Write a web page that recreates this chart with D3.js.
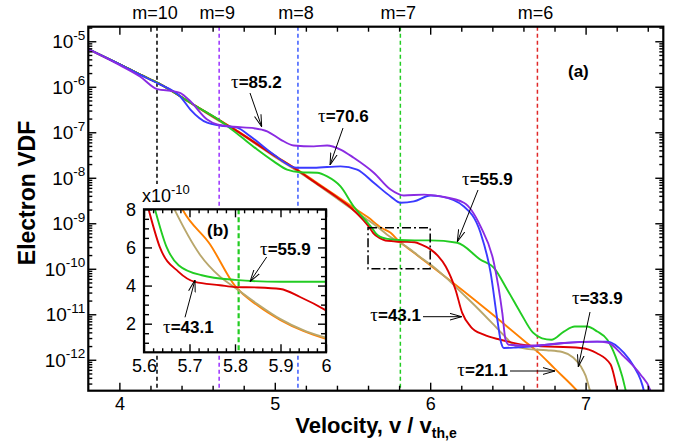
<!DOCTYPE html>
<html><head><meta charset="utf-8">
<script src="https://cdn.jsdelivr.net/npm/d3@7"></script>
<style>
html,body{margin:0;padding:0;background:#fff;}
svg{display:block;font-family:"Liberation Sans",Arial,Helvetica,sans-serif;}
</style></head><body>
<svg id="chart" width="680" height="444"></svg>
<script>
// ---------------- DATA ----------------
const seriesNames = ["τ=21.1","τ=33.9","τ=43.1","τ=55.9","τ=70.6","τ=85.2"];

const v21 = [3.8,4.0,4.135,4.25,4.5,4.65,4.75,5.0,5.144,5.25,5.5,5.6,5.686,5.745,5.8,5.85,5.9,5.95,6.0,6.2,6.4,6.6,6.69,6.8,6.95,7.0];
const f21 = [6.76e-6,3.16e-6,1.86e-6,1.20e-6,3.63e-7,1.78e-7,1.12e-7,3.09e-8,1.51e-8,8.71e-9,2.29e-9,1.35e-9,7.94e-10,6.17e-10,3.98e-10,2.95e-10,2.19e-10,1.62e-10,1.20e-10,3.55e-11,1.00e-11,2.69e-12,1.51e-12,6.46e-13,2.00e-13,1.26e-13];

const v33 = [3.8,4.0,4.135,4.25,4.5,4.65,4.75,5.0,5.144,5.25,5.5,5.6,5.668,5.723,5.767,5.8,5.85,5.9,5.95,6.0,6.1,6.2,6.3,6.4,6.47,6.54,6.62,6.75,6.85,6.92,6.97,7.0,7.03,7.06];
const f33 = [6.76e-6,3.16e-6,1.86e-6,1.20e-6,3.55e-7,1.70e-7,1.07e-7,2.88e-8,1.41e-8,8.13e-9,2.00e-9,1.17e-9,7.94e-10,5.62e-10,4.47e-10,3.89e-10,3.02e-10,2.24e-10,1.66e-10,1.26e-10,6.46e-11,3.02e-11,1.41e-11,6.31e-12,3.55e-12,2.09e-12,1.74e-12,1.62e-12,1.48e-12,1.12e-12,7.08e-13,4.47e-13,2.00e-13,1.12e-13];

const v43 = [3.8,4.0,4.135,4.25,4.5,4.65,4.75,5.0,5.144,5.25,5.4,5.5,5.61,5.635,5.676,5.712,5.767,5.8,5.85,5.9,5.943,6.0,6.05,6.1,6.163,6.206,6.26,6.345,6.453,6.646,6.968,7.07,7.16,7.204,7.22];
const f43 = [6.76e-6,3.16e-6,1.86e-6,1.20e-6,3.63e-7,1.78e-7,1.10e-7,3.02e-8,1.48e-8,8.32e-9,3.72e-9,2.04e-9,8.0e-10,6.0e-10,4.72e-10,4.19e-10,4.02e-10,3.92e-10,3.90e-10,3.82e-10,3.40e-10,2.70e-10,1.91e-10,1.12e-10,3.47e-11,1.07e-11,5.37e-12,3.55e-12,2.75e-12,2.04e-12,1.82e-12,1.41e-12,7.94e-13,2.09e-13,1.12e-13];

const v55 = [3.8,4.0,4.135,4.25,4.5,4.65,4.779,4.887,4.993,5.079,5.165,5.273,5.337,5.423,5.508,5.58,5.624,5.65,5.676,5.727,5.8,5.9,6.0,6.174,6.324,6.41,6.496,6.582,6.66,6.72,6.78,6.86,6.93,7.01,7.075,7.14,7.193,7.236,7.26,7.28];
const f55 = [6.76e-6,3.16e-6,1.86e-6,1.20e-6,3.63e-7,1.78e-7,8.13e-8,4.17e-8,2.29e-8,1.51e-8,1.32e-8,1.29e-8,1.07e-8,6.46e-9,2.34e-9,1.20e-9,8.0e-10,6.0e-10,5.07e-10,4.54e-10,4.30e-10,4.20e-10,4.20e-10,3.72e-10,1.58e-10,1.05e-10,3.47e-11,1.07e-11,3.98e-12,2.95e-12,2.75e-12,4.17e-12,5.37e-12,5.37e-12,4.17e-12,2.75e-12,1.17e-12,4.27e-13,2.00e-13,1.12e-13];

const v70 = [3.8,4.0,4.135,4.25,4.393,4.457,4.565,4.65,4.758,4.843,4.993,5.144,5.251,5.423,5.53,5.637,5.745,5.809,5.895,6.002,6.067,6.217,6.324,6.389,6.432,6.457,6.474,6.55,6.646,6.861,7.075,7.14,7.247,7.311,7.354,7.375,7.39];
const f70 = [6.76e-6,3.16e-6,1.82e-6,1.17e-6,6.03e-7,3.16e-7,1.62e-7,1.41e-7,1.26e-7,8.13e-8,3.24e-8,1.66e-8,1.66e-8,1.78e-8,1.51e-8,7.76e-9,3.89e-9,2.82e-9,3.02e-9,4.07e-9,3.89e-9,2.34e-9,6.17e-10,8.13e-11,7.59e-12,2.34e-12,1.82e-12,1.86e-12,1.95e-12,2.34e-12,2.51e-12,2.51e-12,1.41e-12,7.08e-13,3.63e-13,2.09e-13,1.12e-13];

const v85 = [3.8,4.0,4.135,4.243,4.35,4.393,4.457,4.565,4.629,4.736,4.865,4.951,5.037,5.122,5.251,5.337,5.423,5.508,5.637,5.745,5.83,5.96,6.067,6.217,6.324,6.41,6.464,6.485,6.506,6.646,6.861,7.075,7.14,7.247,7.354,7.418,7.44];
const f85 = [6.76e-6,3.02e-6,1.66e-6,8.91e-7,7.94e-7,7.24e-7,4.79e-7,1.91e-7,1.48e-7,1.32e-7,1.23e-7,1.05e-7,6.92e-8,5.13e-8,4.90e-8,5.13e-8,4.17e-8,2.75e-8,1.29e-8,5.50e-9,4.07e-9,4.27e-9,3.89e-9,2.82e-9,8.51e-10,1.35e-10,1.07e-11,2.75e-12,2.14e-12,2.04e-12,2.34e-12,2.51e-12,2.40e-12,1.17e-12,4.68e-13,2.09e-13,1.12e-13];

// resonance lines
const mLabels = ["m=10","m=9","m=8","m=7","m=6"];
const mVel = [4.242,4.642,5.149,5.808,6.69];

// axes
const xDomain = [3.8,7.5];
const yDomain = [2.09e-13,2.09e-5];
const xTicks = [4,5,6,7];
const yDecades = [1e-5,1e-6,1e-7,1e-8,1e-9,1e-10,1e-11,1e-12];
const yDecadeExp = ["-5","-6","-7","-8","-9","-10","-11","-12"];

// inset (values in units of 1e-10)
const insetXDomain = [5.6,6.0];
const insetYDomain = [0.5,8];
const insetXTicks = [5.6,5.7,5.8,5.9,6.0];
const insetXTickLabels = ["5.6","5.7","5.8","5.9","6"];
const insetYTicks = [2,4,6,8];
const insetScale = 1e-10;
const zoomBoxV = [5.6,6.0];
const zoomBoxF = [1e-10,8e-10];

// ---------------- STYLE ----------------
const seriesColors = ["#ff8000","#b9a76c","#dd0000","#22cc22","#3a3aff","#8a2be2"];
const mColors = ["#000000","#9a30ff","#3a5aff","#22cc22","#e02828"];

// ---------------- DRAW ----------------
const svg = d3.select("#chart");
const M = {l:88.3, r:663.3, t:26.7, b:390.7};
const IN = {l:144, r:326, t:209.3, b:352.3};

const x = d3.scaleLinear().domain(xDomain).range([M.l, M.r]);
const y = d3.scaleLog().domain(yDomain).range([M.b, M.t]);
const xi = d3.scaleLinear().domain(insetXDomain).range([IN.l, IN.r]);
const yi = d3.scaleLinear().domain(insetYDomain).range([IN.b, IN.t]);

const defs = svg.append("defs");
defs.append("clipPath").attr("id","clipMain").append("rect")
  .attr("x",M.l).attr("y",M.t).attr("width",M.r-M.l).attr("height",M.b-M.t);
defs.append("clipPath").attr("id","clipIn").append("rect")
  .attr("x",IN.l).attr("y",IN.t).attr("width",IN.r-IN.l).attr("height",IN.b-IN.t);
defs.append("marker").attr("id","arr").attr("viewBox","0 0 12 8")
  .attr("refX",12).attr("refY",4).attr("markerWidth",12).attr("markerHeight",8)
  .attr("markerUnits","userSpaceOnUse").attr("orient","auto")
  .append("path").attr("d","M0,0.6 L12,4 L0,7.4").attr("fill","none")
  .attr("stroke","#000").attr("stroke-width",1);

const series = [[v21,f21],[v33,f33],[v43,f43],[v55,f55],[v70,f70],[v85,f85]]
  .map(([v,f],i)=>({name:seriesNames[i], color:seriesColors[i], pts:v.map((d,j)=>[d,f[j]])}));

// dashed resonance lines
const gm = svg.append("g");
mVel.forEach((mv,i)=>{
  gm.append("line").attr("x1",x(mv)).attr("x2",x(mv)).attr("y1",M.t).attr("y2",M.b)
    .attr("stroke",mColors[i]).attr("stroke-width",1.5).attr("stroke-dasharray","4,3");
  svg.append("text").attr("x",x(mv)-2).attr("y",19).attr("text-anchor","middle")
    .attr("font-size",18).text(mLabels[i]);
});

// curves
const line = d3.line().x(d=>x(d[0])).y(d=>y(d[1])).curve(d3.curveMonotoneX);
const gc = svg.append("g").attr("clip-path","url(#clipMain)");
series.forEach(s=>{
  gc.append("path").attr("d",line(s.pts)).attr("fill","none")
    .attr("stroke",s.color).attr("stroke-width",1.9);
});

// zoom box
svg.append("rect").attr("x",x(zoomBoxV[0])).attr("y",y(zoomBoxF[1]))
  .attr("width",x(zoomBoxV[1])-x(zoomBoxV[0])).attr("height",y(zoomBoxF[0])-y(zoomBoxF[1]))
  .attr("fill","none").attr("stroke","#000").attr("stroke-width",1.5)
  .attr("stroke-dasharray","9,3,2,3");

// axes
function styleAxis(g){ g.select(".domain").remove(); g.selectAll("line").attr("stroke","#000").attr("stroke-width",1.4); }
const xMinor = d3.range(4.2,7.5,0.2).filter(v=>Math.abs(v-Math.round(v))>1e-6);
const yMinor = [];
for(let e=-13;e<=-5;e++) for(let k=2;k<=9;k++){const val=k*Math.pow(10,e); if(val>yDomain[0]&&val<yDomain[1]) yMinor.push(val);}

const gxb = svg.append("g").attr("transform",`translate(0,${M.b})`)
  .call(d3.axisBottom(x).tickValues(xTicks).tickSizeInner(-8).tickSizeOuter(0).tickPadding(7).tickFormat(d3.format("d")));
gxb.selectAll("text").attr("font-size",18).attr("font-family","Liberation Sans, Arial, sans-serif").attr("fill","#000");
styleAxis(gxb);
styleAxis(svg.append("g").attr("transform",`translate(0,${M.b})`).call(d3.axisBottom(x).tickValues(xMinor).tickSize(-5).tickFormat("")));
styleAxis(svg.append("g").attr("transform",`translate(0,${M.t})`).call(d3.axisTop(x).tickValues(xTicks).tickSize(-8).tickFormat("")));
styleAxis(svg.append("g").attr("transform",`translate(0,${M.t})`).call(d3.axisTop(x).tickValues(xMinor).tickSize(-5).tickFormat("")));
styleAxis(svg.append("g").attr("transform",`translate(${M.l},0)`).call(d3.axisLeft(y).tickValues(yDecades).tickSize(-8).tickFormat("")));
styleAxis(svg.append("g").attr("transform",`translate(${M.l},0)`).call(d3.axisLeft(y).tickValues(yMinor).tickSize(-4).tickFormat("")));
styleAxis(svg.append("g").attr("transform",`translate(${M.r},0)`).call(d3.axisRight(y).tickValues(yDecades).tickSize(-8).tickFormat("")));
styleAxis(svg.append("g").attr("transform",`translate(${M.r},0)`).call(d3.axisRight(y).tickValues(yMinor).tickSize(-4).tickFormat("")));

yDecades.forEach((d,i)=>{
  const t = svg.append("text").attr("x",M.l-3).attr("y",y(d)+7).attr("text-anchor","end").attr("font-size",19);
  t.append("tspan").text("10");
  t.append("tspan").attr("dy",-8.5).attr("font-size",13.5).text(yDecadeExp[i]);
});

svg.append("rect").attr("x",M.l).attr("y",M.t).attr("width",M.r-M.l).attr("height",M.b-M.t)
  .attr("fill","none").attr("stroke","#000").attr("stroke-width",2.2);

// axis titles
svg.append("text").attr("transform",`translate(35,193) rotate(-90)`).attr("text-anchor","middle")
  .attr("font-size",23).attr("font-weight","bold").text("Electron VDF");
const xt = svg.append("text").attr("x",376).attr("y",433).attr("text-anchor","middle")
  .attr("font-size",22).attr("font-weight","bold");
xt.append("tspan").text("Velocity, v / v");
xt.append("tspan").attr("dy",5).attr("font-size",14).text("th,e");

// annotations
function tauLabel(g, label, tx, ty, anchor, size){
  const t = g.append("text").attr("x",tx).attr("y",ty).attr("text-anchor",anchor||"start")
    .attr("font-size",size||17).attr("font-weight","bold");
  t.append("tspan").attr("font-family","Liberation Serif, Times New Roman, serif").attr("font-weight","normal").attr("font-size",(size||17)+2).text(label[0]);
  t.append("tspan").text(label.slice(1));
}
function arrow(g,x1,y1,x2,y2){
  g.append("line").attr("x1",x1).attr("y1",y1).attr("x2",x2).attr("y2",y2)
    .attr("stroke","#000").attr("stroke-width",1).attr("marker-end","url(#arr)");
}
const ga = svg.append("g");
tauLabel(ga, seriesNames[5], 231, 88);   arrow(ga,250,93,261.7,126.7);
tauLabel(ga, seriesNames[4], 318, 122);  arrow(ga,343,128,330,165);
tauLabel(ga, seriesNames[3], 462, 185);  arrow(ga,478,190,457.3,241.7);
tauLabel(ga, seriesNames[2], 421, 321, "end"); arrow(ga,423,316.7,461.7,316.7);
tauLabel(ga, seriesNames[0], 508, 376, "end"); arrow(ga,510,371,555,371);
tauLabel(ga, seriesNames[1], 572, 304);  arrow(ga,590,312,578.3,366.7);
ga.append("text").attr("x",568).attr("y",77).attr("font-size",17).attr("font-weight","bold").text("(a)");

// ---------------- INSET ----------------
const gi = svg.append("g");
gi.append("rect").attr("x",138).attr("y",184).attr("width",56).attr("height",IN.t-184).attr("fill","#fff");
gi.append("rect").attr("x",IN.l).attr("y",IN.t).attr("width",IN.r-IN.l).attr("height",IN.b-IN.t).attr("fill","#fff");
gi.append("line").attr("x1",xi(mVel[3])).attr("x2",xi(mVel[3])).attr("y1",IN.t).attr("y2",IN.b)
  .attr("stroke",mColors[3]).attr("stroke-width",2.2).attr("stroke-dasharray","5,3");
const lineIn = d3.line().x(d=>xi(d[0])).y(d=>yi(d[1]/insetScale)).curve(d3.curveMonotoneX);
const gic = gi.append("g").attr("clip-path","url(#clipIn)");
series.slice(0,4).forEach(s=>{
  gic.append("path").attr("d",lineIn(s.pts.filter(p=>p[0]>5.3&&p[0]<6.3))).attr("fill","none")
    .attr("stroke",s.color).attr("stroke-width",1.9);
});
const xiMinor = d3.range(5.62,6.0,0.02).filter(v=>Math.abs(v*10-Math.round(v*10))>1e-6);
const yiMinor = d3.range(1,8,0.5).filter(v=>v%2!==0);
const gib = gi.append("g").attr("transform",`translate(0,${IN.b})`)
  .call(d3.axisBottom(xi).tickValues(insetXTicks).tickSizeInner(-8).tickSizeOuter(0).tickPadding(7).tickFormat((d,i)=>insetXTickLabels[i]));
gib.selectAll("text").attr("font-size",18).attr("font-family","Liberation Sans, Arial, sans-serif").attr("fill","#000");
styleAxis(gib);
styleAxis(gi.append("g").attr("transform",`translate(0,${IN.b})`).call(d3.axisBottom(xi).tickValues(xiMinor).tickSize(-4).tickFormat("")));
styleAxis(gi.append("g").attr("transform",`translate(0,${IN.t})`).call(d3.axisTop(xi).tickValues(insetXTicks).tickSize(-8).tickFormat("")));
styleAxis(gi.append("g").attr("transform",`translate(0,${IN.t})`).call(d3.axisTop(xi).tickValues(xiMinor).tickSize(-4).tickFormat("")));
const gil = gi.append("g").attr("transform",`translate(${IN.l},0)`)
  .call(d3.axisLeft(yi).tickValues(insetYTicks).tickSizeInner(-8).tickSizeOuter(0).tickPadding(8).tickFormat(d3.format("d")));
gil.selectAll("text").attr("font-size",18).attr("font-family","Liberation Sans, Arial, sans-serif").attr("fill","#000");
styleAxis(gil);
styleAxis(gi.append("g").attr("transform",`translate(${IN.l},0)`).call(d3.axisLeft(yi).tickValues(yiMinor).tickSize(-5).tickFormat("")));
styleAxis(gi.append("g").attr("transform",`translate(${IN.r},0)`).call(d3.axisRight(yi).tickValues(insetYTicks).tickSize(-8).tickFormat("")));
styleAxis(gi.append("g").attr("transform",`translate(${IN.r},0)`).call(d3.axisRight(yi).tickValues(yiMinor).tickSize(-5).tickFormat("")));
gi.append("rect").attr("x",IN.l).attr("y",IN.t).attr("width",IN.r-IN.l).attr("height",IN.b-IN.t)
  .attr("fill","none").attr("stroke","#000").attr("stroke-width",2.2);
const xl = gi.append("text").attr("x",142).attr("y",202).attr("font-size",18);
xl.append("tspan").text("x10");
xl.append("tspan").attr("dy",-8).attr("font-size",13).text("-10");
gi.append("text").attr("x",207).attr("y",236).attr("font-size",17).attr("font-weight","bold").text("(b)");
tauLabel(gi, seriesNames[3], 260, 255); arrow(gi,266.7,257,250,281.7);
tauLabel(gi, seriesNames[2], 163, 333); arrow(gi,185,317.3,195,280);
</script>
</body></html>
